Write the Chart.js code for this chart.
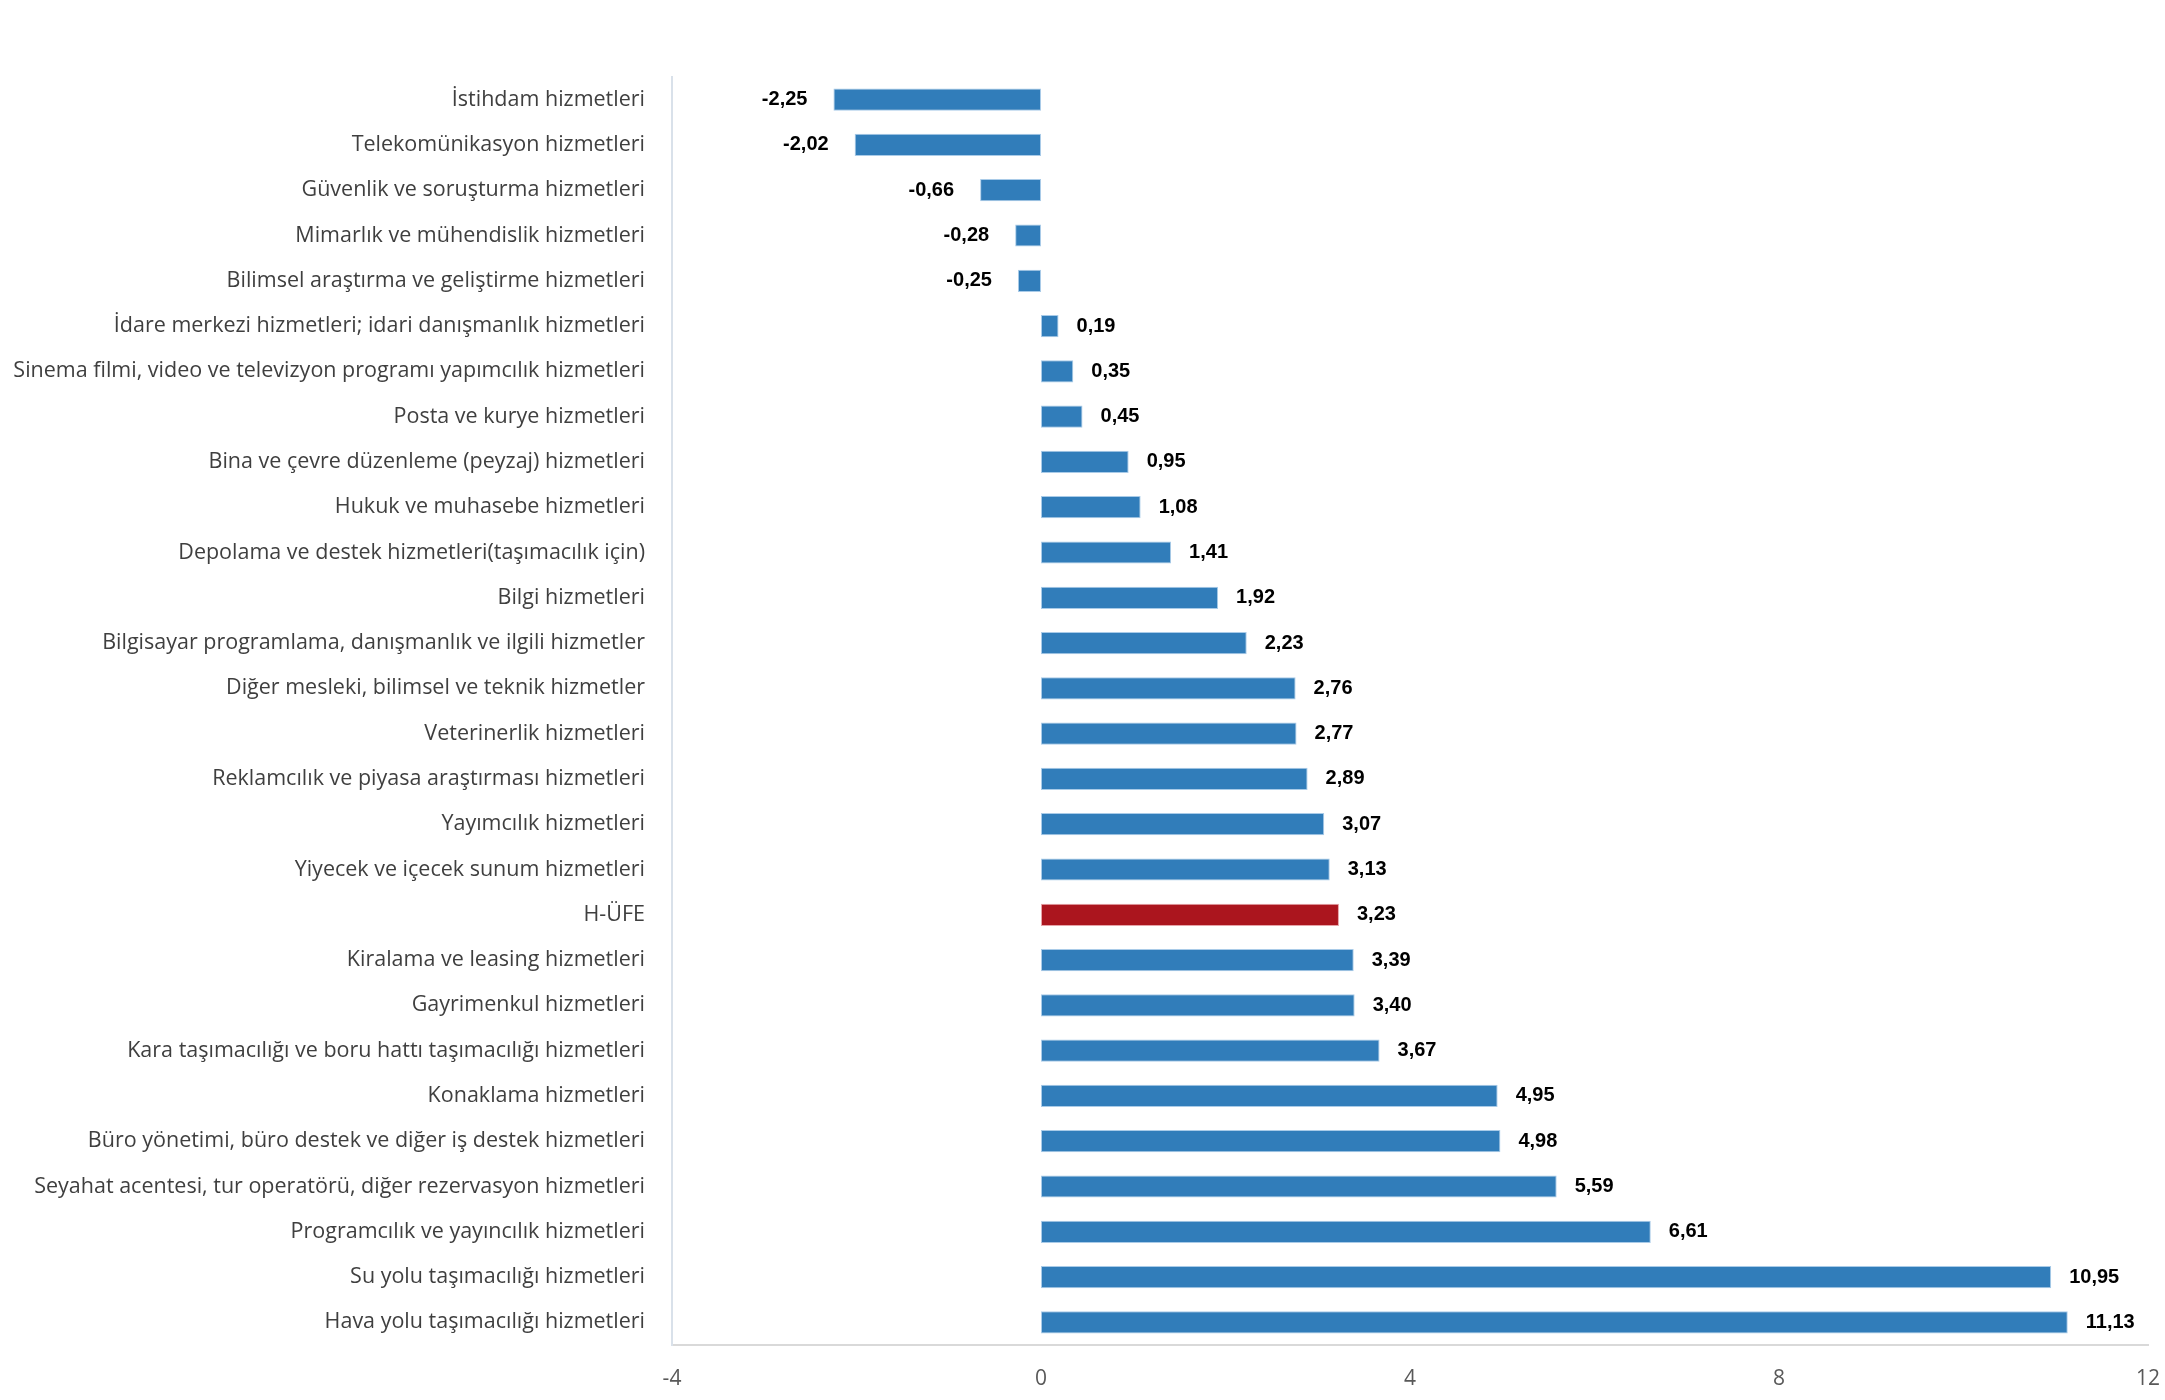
<!DOCTYPE html>
<html>
<head>
<meta charset="utf-8">
<script src="https://cdn.jsdelivr.net/npm/chart.js@4.4.1/dist/chart.umd.min.js"></script>
<style>
    html, body { margin: 0; padding: 0; background: #ffffff; }
    #wrap { width: 2165px; height: 1400px; }
</style>
</head>
<body>
<div id="wrap"><canvas id="hufeChart" width="2165" height="1400"></canvas></div>
<script>
const categories = [
    'İstihdam hizmetleri',
    'Telekomünikasyon hizmetleri',
    'Güvenlik ve soruşturma hizmetleri',
    'Mimarlık ve mühendislik hizmetleri',
    'Bilimsel araştırma ve geliştirme hizmetleri',
    'İdare merkezi hizmetleri; idari danışmanlık hizmetleri',
    'Sinema filmi, video ve televizyon programı yapımcılık hizmetleri',
    'Posta ve kurye hizmetleri',
    'Bina ve çevre düzenleme (peyzaj) hizmetleri',
    'Hukuk ve muhasebe hizmetleri',
    'Depolama ve destek hizmetleri(taşımacılık için)',
    'Bilgi hizmetleri',
    'Bilgisayar programlama, danışmanlık ve ilgili hizmetler',
    'Diğer mesleki, bilimsel ve teknik hizmetler',
    'Veterinerlik hizmetleri',
    'Reklamcılık ve piyasa araştırması hizmetleri',
    'Yayımcılık hizmetleri',
    'Yiyecek ve içecek sunum hizmetleri',
    'H-ÜFE',
    'Kiralama ve leasing hizmetleri',
    'Gayrimenkul hizmetleri',
    'Kara taşımacılığı ve boru hattı taşımacılığı hizmetleri',
    'Konaklama hizmetleri',
    'Büro yönetimi, büro destek ve diğer iş destek hizmetleri',
    'Seyahat acentesi, tur operatörü, diğer rezervasyon hizmetleri',
    'Programcılık ve yayıncılık hizmetleri',
    'Su yolu taşımacılığı hizmetleri',
    'Hava yolu taşımacılığı hizmetleri'
];

const changeValues = [
    -2.25, -2.02, -0.66, -0.28, -0.25, 0.19, 0.35, 0.45, 0.95, 1.08,
    1.41, 1.92, 2.23, 2.76, 2.77, 2.89, 3.07, 3.13, 3.23, 3.39,
    3.40, 3.67, 4.95, 4.98, 5.59, 6.61, 10.95, 11.13
];

const highlightLabel = 'H-ÜFE';
const xTicks = [-4, 0, 4, 8, 12];

const blue = '#317dba';
const blueEdge = '#a9cbe8';
const red = '#ab151e';
const redEdge = '#e6a3a8';

const barColors = categories.map(c => c === highlightLabel ? red : blue);
const edgeColors = categories.map(c => c === highlightLabel ? redEdge : blueEdge);

// values written at the bar ends, comma decimals
const valueLabelPlugin = {
    id: 'valueLabels',
    afterDatasetsDraw(chart) {
        const ctx = chart.ctx;
        const meta = chart.getDatasetMeta(0);
        ctx.save();
        ctx.font = 'bold 20px "Liberation Sans", Arial, sans-serif';
        ctx.fillStyle = '#000000';
        ctx.textBaseline = 'middle';
        meta.data.forEach((bar, i) => {
            const v = changeValues[i];
            const text = v.toFixed(2).replace('.', ',');
            if (v >= 0) {
                ctx.textAlign = 'left';
                ctx.fillText(text, bar.x + 18, bar.y);
            } else {
                ctx.textAlign = 'right';
                ctx.fillText(text, bar.x - 26, bar.y);
            }
        });
        ctx.restore();
    }
};

const ctx = document.getElementById('hufeChart').getContext('2d');

new Chart(ctx, {
    type: 'bar',
    data: {
        labels: categories,
        datasets: [{
            data: changeValues,
            backgroundColor: barColors,
            borderColor: edgeColors,
            borderWidth: 1,
            borderSkipped: false,
            barPercentage: 0.49,
            categoryPercentage: 1.0
        }]
    },
    options: {
        indexAxis: 'y',
        responsive: false,
        animation: false,
        layout: {
            padding: { top: 77, right: 17, bottom: 0, left: 0 }
        },
        plugins: {
            legend: { display: false },
            title: { display: false },
            tooltip: { enabled: false }
        },
        scales: {
            x: {
                min: -4,
                max: 12,
                afterBuildTicks(scale) {
                    scale.ticks = xTicks.map(v => ({ value: v }));
                },
                afterFit(scale) {
                    scale.height = 55;
                    scale.paddingLeft = 0;
                    scale.paddingRight = 0;
                },
                grid: { display: false, drawTicks: false },
                border: { display: true, color: '#d9d9d9', width: 2 },
                ticks: {
                    padding: 21,
                    color: '#595959',
                    font: { family: '"Open Sans", "Noto Sans", sans-serif', size: 21 }
                }
            },
            y: {
                afterFit(scale) {
                    scale.width = 672;
                },
                grid: { display: false, drawTicks: false },
                border: { display: true, color: '#d9e1ea', width: 2 },
                ticks: {
                    padding: 27,
                    autoSkip: false,
                    color: '#3f3f3f',
                    font: { family: '"Open Sans", "Noto Sans", sans-serif', size: 21.5 }
                }
            }
        }
    },
    plugins: [valueLabelPlugin]
});
</script>
</body>
</html>
